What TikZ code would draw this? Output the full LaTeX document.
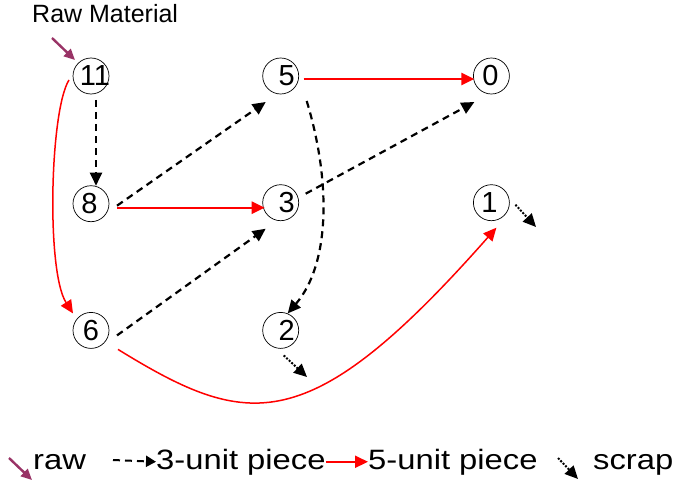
\documentclass[tikz,border=0pt]{standalone}
\usepackage{fontspec}
\setmainfont{Liberation Sans}
\newfontfamily\legfont[FakeStretch=1.17]{Liberation Sans}
\usetikzlibrary{positioning,arrows.meta}
\definecolor{rawcol}{RGB}{153,51,102}
\newcommand{\stnum}[2][0pt]{\makebox[0pt]{\hspace{#1}#2}}

\begin{document}
\begin{tikzpicture}[
  x=1pt, y=-1pt,
  st/.style={draw, circle, line width=0.7pt, minimum size=36pt, inner sep=0pt,
             font=\fontsize{29}{29}\selectfont},
  tip/.style={-{Triangle[length=13pt,width=12pt]}},
  cut3/.style={tip, line width=2.2pt, dash pattern=on 7pt off 5pt},   % 3-unit piece
  cut5/.style={tip, line width=2.4pt, red},                           % 5-unit piece
  bend5/.style={cut5, line width=1.5pt},
  scrp/.style={tip, line width=2pt, dash pattern=on 2pt off 1.5pt},
  rawarr/.style={-{Triangle[length=11pt,width=10pt]}, line width=2.4pt, rawcol},
  leg/.style={inner sep=0pt, anchor=base west, font=\legfont\fontsize{28}{28}\selectfont}
]
\useasboundingbox (0,0) rectangle (674,484);

\node[anchor=base west, inner sep=0pt, font=\fontsize{25}{25}\selectfont]
  (title) at (32,23) {Raw Material};

\node[st] (n11) at (91,76) {\stnum[8pt]{11}};
\node[st, right=153pt of n11] (n5) {\stnum[12pt]{5}};
\node[st, right=174pt of n5] (n0) {\stnum[-2pt]{0}};
\node[st, below=91pt of n11] (n8) {\stnum[-3pt]{8}};
\node[st, below=90pt of n5] (n3) {\stnum[12pt]{3}};
\node[st, below=90pt of n0] (n1) {\stnum[-4pt]{1}};
\node[st, below=90pt of n8] (n6) {\stnum{6}};
\node[st, below=91pt of n3] (n2) {\stnum[12pt]{2}};

\coordinate (rawin) at (52,38);
\coordinate (out1) at (536,227);
\coordinate (out2) at (307,377);

\draw[rawarr] (rawin) -- ([shift={(-16,-16)}]n11.center);
\draw[cut3] ([shift={(5,24)}]n11.center) -- ([shift={(5,-18)}]n8.center);
\draw[bend5] ([shift={(-22,4)}]n11.center)
  .. controls +(-19,30) and +(-27,-42) .. ([shift={(-18,-17)}]n6.center);
\draw[cut3] ([shift={(26,2)}]n8.center) -- ([shift={(-15,26)}]n5.center);
\draw[cut5] ([shift={(26,4)}]n8.center) -- ([shift={(-16,5)}]n3.center);
\draw[cut5] ([shift={(23,3)}]n5.center) -- ([shift={(-17,3)}]n0.center);
\draw[cut3] ([shift={(26,25)}]n5.center)
  .. controls +(24,79) and +(43,-50) .. ([shift={(7,-17)}]n2.center);
\draw[cut3] ([shift={(25,-9)}]n3.center) -- ([shift={(-17,26)}]n0.center);
\draw[cut3] ([shift={(26,5)}]n6.center) -- ([shift={(-15,26)}]n3.center);
\draw[bend5] ([shift={(27,19)}]n6.center)
  .. controls +(130,80) and +(-188,213) .. ([shift={(5,25)}]n1.center);
\draw[scrp] ([shift={(24,2)}]n1.center) -- (out1);
\draw[scrp] ([shift={(3,25)}]n2.center) -- (out2);

% legend
\node[leg] (lraw) at (33,469) {raw};
\node[leg] (l3) at (156,469) {3-unit piece};
\node[leg] (l5) at (368,469) {5-unit piece};
\node[leg] (lscr) at (593,469) {scrap};
\coordinate (k1) at (9,458);
\coordinate (k1e) at (32,480);
\coordinate (k2) at (113,460);
\coordinate (k4) at (558,458);
\coordinate (k4e) at (578,479);
\draw[rawarr] (k1) -- (k1e);
\draw[cut3, line width=2pt, -{Triangle[length=10pt,width=11pt]}] (k2) -- (l3.west);
\draw[cut5, line width=2pt] (l3.east) -- (l5.west);
\draw[scrp] (k4) -- (k4e);
\end{tikzpicture}
\end{document}
